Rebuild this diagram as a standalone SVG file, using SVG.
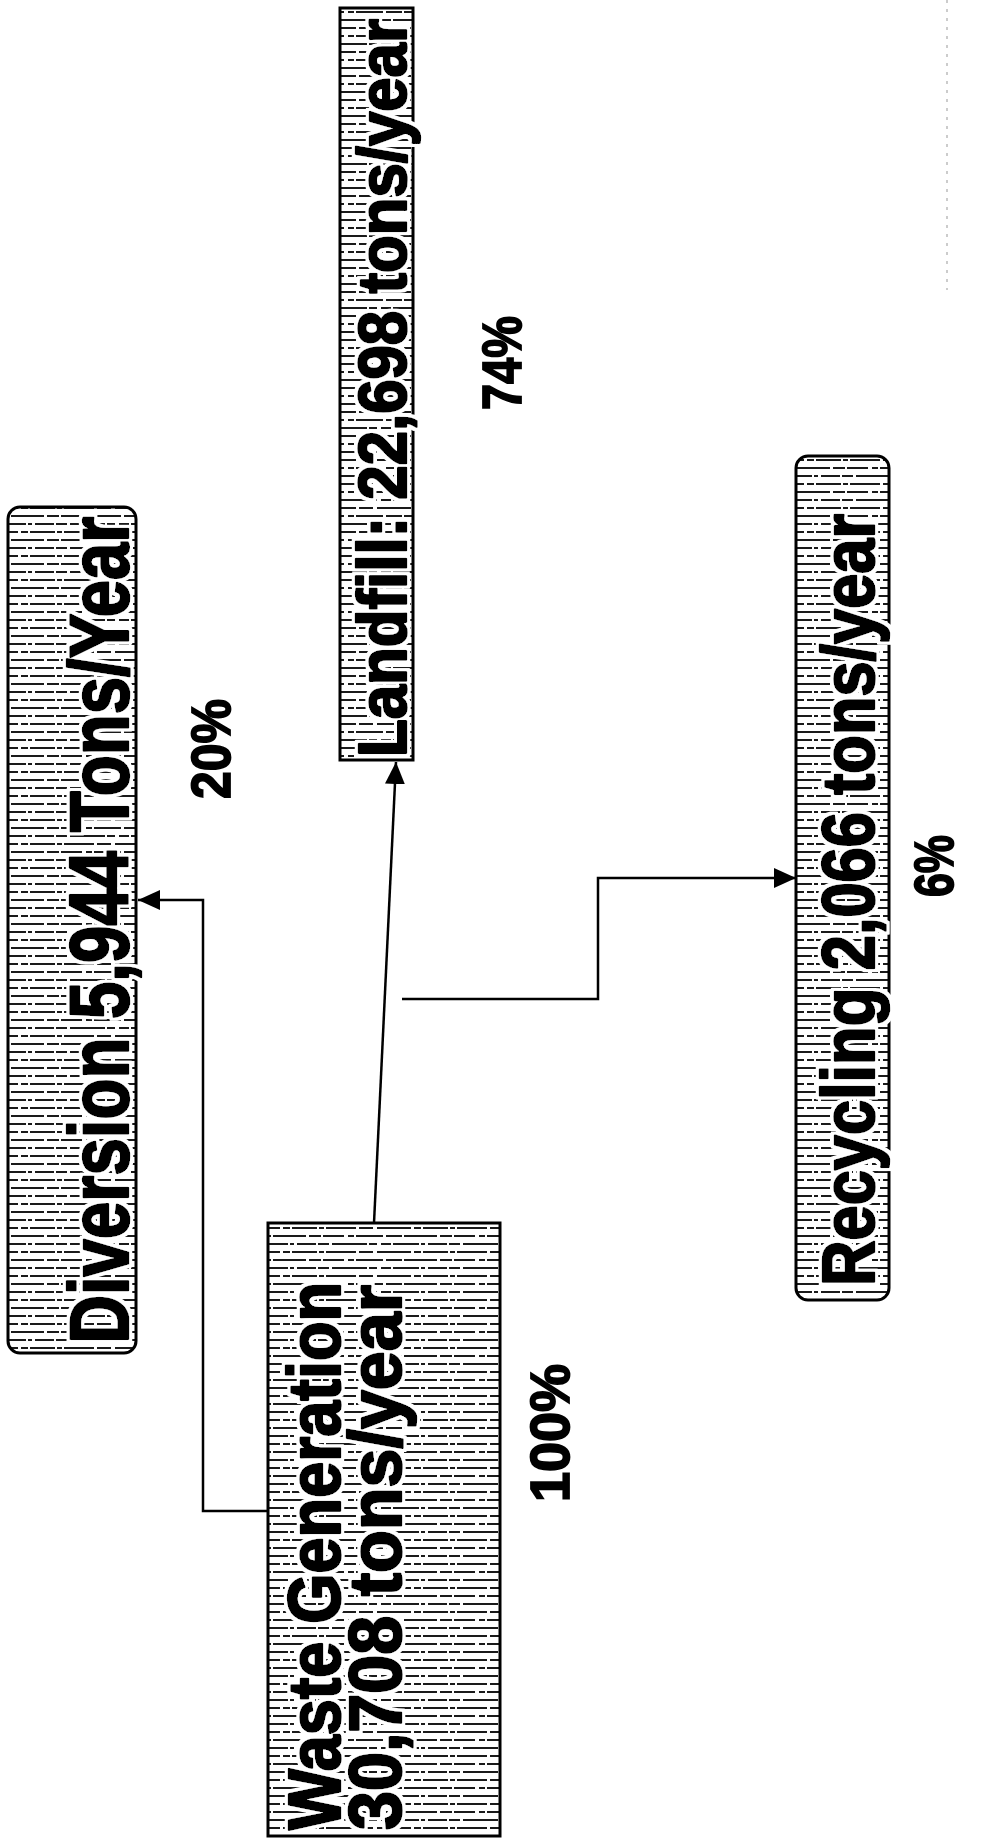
<svg xmlns="http://www.w3.org/2000/svg" width="985" height="1839" viewBox="0 0 985 1839">
  <style>
    .box { fill: url(#stripes); stroke: #000; stroke-width: 3; }
    .lbl { font-family: "Liberation Sans", Arial, sans-serif; font-weight: bold; fill: #000; stroke: #000; stroke-width: 2.6; stroke-linejoin: round; filter: url(#halo); }
    .pct { font-family: "Liberation Sans", Arial, sans-serif; font-weight: bold; font-size: 56px; fill: #000; stroke: #000; stroke-width: 1.8; text-anchor: middle; }
    .conn { fill: none; stroke: #000; stroke-width: 2.5; }
  </style>
  <defs>
    <pattern id="stripes" patternUnits="userSpaceOnUse" width="131" height="24">
      <rect width="131" height="24" fill="#fff"/>
      <path d="M0 4H131" stroke="#1a1a1a" stroke-width="2.2" stroke-dasharray="18 3 7 2 25 2 5 2 30 3 14 4 16 2"/>
      <path d="M0 12H131" stroke="#1a1a1a" stroke-width="2.2" stroke-dasharray="9 2 33 3 12 2 21 4 6 2 27 3 7 2"/>
      <path d="M0 20H131" stroke="#1a1a1a" stroke-width="2.2" stroke-dasharray="26 2 4 3 19 2 11 3 35 2 8 4 10 2"/>
    </pattern>
    <filter id="halo" x="-5%" y="-10%" width="110%" height="120%">
      <feMorphology in="SourceAlpha" operator="dilate" radius="3" result="d"/>
      <feFlood flood-color="#fff"/>
      <feComposite in2="d" operator="in" result="w"/>
      <feMerge><feMergeNode in="w"/><feMergeNode in="SourceGraphic"/></feMerge>
    </filter>
    <marker id="arrow" viewBox="0 0 22 20" refX="22" refY="10" markerWidth="22" markerHeight="20" markerUnits="userSpaceOnUse" orient="auto">
      <path d="M0 0L22 10L0 20Z" fill="#000"/>
    </marker>
  </defs>

  <line x1="947" y1="0" x2="947" y2="290" stroke="#999" stroke-width="1" stroke-dasharray="3 6"/>

  <g id="connectors">
    <polyline class="conn" points="268,1511 203,1511 203,900 138,900" marker-end="url(#arrow)"/>
    <line class="conn" x1="374" y1="1223" x2="396" y2="762" marker-end="url(#arrow)"/>
    <polyline class="conn" points="402,999 598,999 598,878 796,878" marker-end="url(#arrow)"/>
  </g>

  <g id="landfill">
    <rect class="box" x="340" y="8" width="73" height="752"/>
    <text class="lbl" font-size="68" transform="translate(406,388) rotate(-90)" text-anchor="middle" textLength="738" lengthAdjust="spacingAndGlyphs">Landfill: 22,698 tons/year</text>
  </g>

  <g id="diversion">
    <rect class="box" x="8" y="507" width="128" height="846" rx="12"/>
    <text class="lbl" font-size="84" transform="translate(128,930) rotate(-90)" text-anchor="middle" textLength="827" lengthAdjust="spacingAndGlyphs">Diversion 5,944 Tons/Year</text>
  </g>

  <g id="recycling">
    <rect class="box" x="796" y="456" width="93" height="844" rx="12"/>
    <text class="lbl" font-size="74" transform="translate(874,900) rotate(-90)" text-anchor="middle" textLength="772" lengthAdjust="spacingAndGlyphs">Recycling 2,066 tons/year</text>
  </g>

  <g id="waste">
    <rect class="box" x="268" y="1223" width="232" height="613"/>
    <text class="lbl" font-size="74" transform="translate(340,1830) rotate(-90)" textLength="548" lengthAdjust="spacingAndGlyphs">Waste Generation</text>
    <text class="lbl" font-size="74" transform="translate(401,1830) rotate(-90)" textLength="545" lengthAdjust="spacingAndGlyphs">30,708 tons/year</text>
  </g>

  <g id="percentages">
    <text class="pct" transform="translate(501,363) rotate(-90)" y="20" textLength="94" lengthAdjust="spacingAndGlyphs">74%</text>
    <text class="pct" transform="translate(210,749) rotate(-90)" y="20" textLength="100" lengthAdjust="spacingAndGlyphs">20%</text>
    <text class="pct" transform="translate(549,1433) rotate(-90)" y="20" textLength="138" lengthAdjust="spacingAndGlyphs">100%</text>
    <text class="pct" transform="translate(933,866) rotate(-90)" y="20" textLength="62" lengthAdjust="spacingAndGlyphs">6%</text>
  </g>
</svg>
